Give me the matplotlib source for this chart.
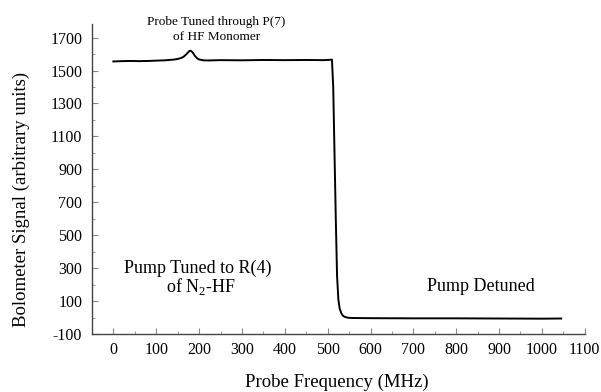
import matplotlib
matplotlib.use("Agg")
import matplotlib.pyplot as plt
from matplotlib.ticker import MultipleLocator

freq = [0, 20, 40, 60, 80, 100, 120, 140, 150, 160, 165, 170, 175, 178, 182, 186, 190, 195, 200, 210, 220,
        250, 300, 350, 400, 450, 490, 505, 510, 513, 516, 519, 522, 525, 528, 532, 536, 540, 545, 550,
        560, 600, 700, 800, 900, 1000, 1045]
signal = [1555, 1557, 1558, 1557, 1558, 1560, 1562, 1566, 1570, 1578, 1586, 1598, 1612, 1620, 1618, 1606, 1590, 1575, 1567, 1562, 1561,
          1563, 1562, 1564, 1563, 1564, 1563, 1565, 1566, 1400, 1000, 600, 250, 110, 55, 25, 10, 4, 0, -2,
          -3, -4, -5, -5, -6, -7, -6]

xticks = list(range(0, 1101, 100))
yticks = list(range(-100, 1701, 200))

plt.rcParams['font.family'] = ['Liberation Serif', 'DejaVu Serif']
plt.rcParams['axes.unicode_minus'] = False
plt.rcParams['mathtext.fontset'] = 'custom'
plt.rcParams['mathtext.rm'] = 'Liberation Serif'

fig = plt.figure(figsize=(6.01, 3.92), dpi=100)
ax = fig.add_axes([0.153, 0.148, 0.820, 0.791])
ax.plot(freq, signal, color='black', lw=1.4)

ax.set_xlim(-50, 1100)
ax.set_ylim(-100, 1783)
ax.set_xticks(xticks)
ax.set_yticks(yticks)
ax.xaxis.set_minor_locator(MultipleLocator(50))
ax.yaxis.set_minor_locator(MultipleLocator(100))
ax.tick_params(which='both', direction='in', color='#888888', labelsize=11.5)
ax.tick_params(which='major', length=4, width=0.8)
ax.tick_params(which='minor', length=2.5, width=0.6)
ax.tick_params(axis='x', pad=6)
ax.tick_params(axis='y', pad=7)
for s in ['top', 'right']:
    ax.spines[s].set_visible(False)
for s in ['left', 'bottom']:
    ax.spines[s].set_color('#444444')
    ax.spines[s].set_linewidth(1.0)

fig.text(0.035, 0.49, 'Bolometer Signal (arbitrary units)', rotation=90,
         ha='center', va='center', fontsize=13.5)
fig.text(0.561, 0.024, 'Probe Frequency (MHz)', ha='center', va='center', fontsize=13.5)

ax.text(241, 1795, 'Probe Tuned through P(7)', ha='center', va='center', fontsize=9.5, clip_on=False)
ax.text(241, 1703, 'of HF Monomer', ha='center', va='center', fontsize=9.5)
ax.text(197, 298, 'Pump Tuned to R(4)', ha='center', va='center', fontsize=13)
ax.text(204, 190, r'of N$_\mathrm{2}$-HF', ha='center', va='center', fontsize=13)
ax.text(858, 190, 'Pump Detuned', ha='center', va='center', fontsize=13)

fig.savefig('out.png', dpi=100)
